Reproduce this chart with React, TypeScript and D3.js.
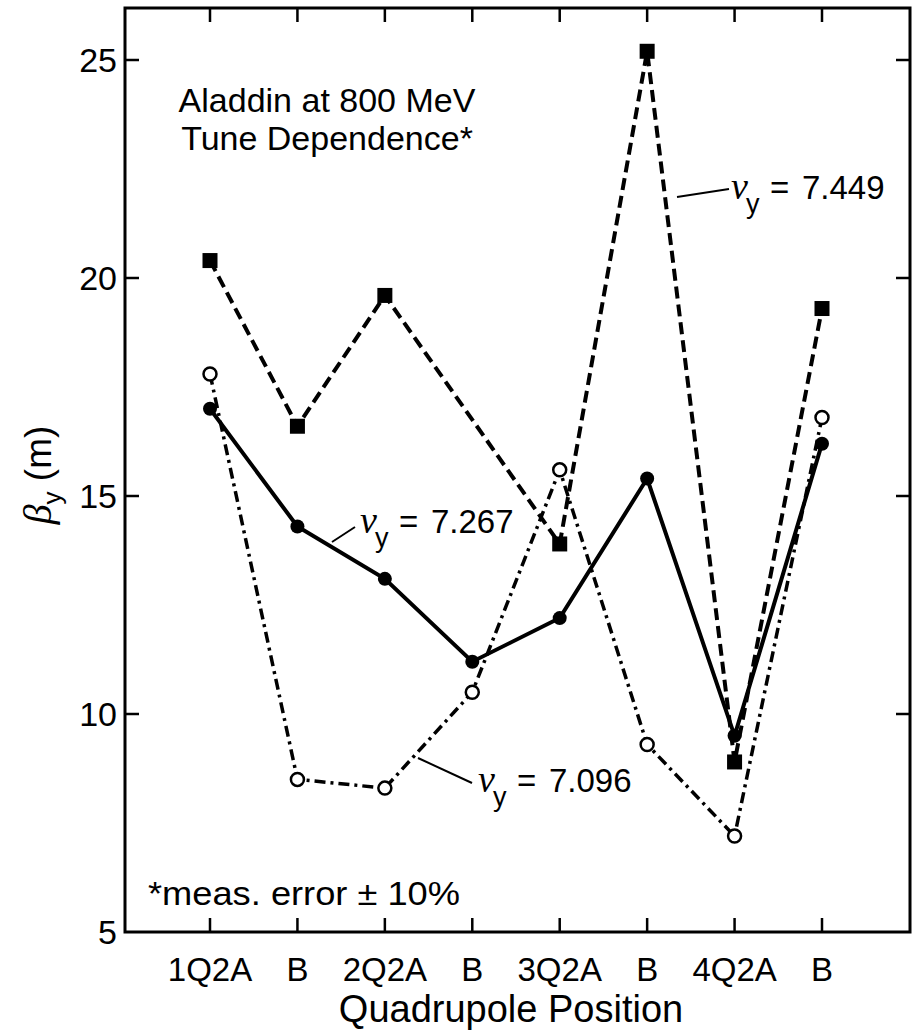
import React from 'react';
import * as d3 from 'd3';

const width = 912;
const height = 1035;

const positions = ['1Q2A', 'B', '2Q2A', 'B', '3Q2A', 'B', '4Q2A', 'B'];
// beta_y (m) at each quadrupole, three tunes
const beta7449 = [20.4, 16.6, 19.6, null, 13.9, 25.2, 8.9, 19.3];
const beta7267 = [17.0, 14.3, 13.1, 11.2, 12.2, 15.4, 9.5, 16.2];
const beta7096 = [17.8, 8.5, 8.3, 10.5, 15.6, 9.3, 7.2, 16.8];
const yTicks = [5, 10, 15, 20, 25];

const frame = { left: 125, right: 910, top: 8, bottom: 932 };
const tickLen = 14;
const sans = 'Liberation Sans, Arial, Helvetica, sans-serif';
const serif = 'Liberation Serif, Times New Roman, serif';

const x = d3.scaleLinear().domain([0, positions.length - 1]).range([210, 822]);
const y = d3.scaleLinear().domain([5, 25]).range([932, 60]);

type Pt = { i: number; v: number };
const toPoints = (vals: (number | null)[]): Pt[] =>
  vals.map((v, i) => ({ i, v: v as number })).filter(d => d.v != null);

const line = d3.line<Pt>().x(d => x(d.i)).y(d => y(d.v));

// nu_y = value, kept as one text so the subscript sits under the nu
const NuLabel = ({ x0, base, value, leader }: { x0: number; base: number; value: string; leader: number[] }) => (
  <g>
    <line x1={leader[0]} y1={leader[1]} x2={leader[2]} y2={leader[3]} stroke="#000" strokeWidth={2} />
    <text x={x0} y={base} fontFamily={sans} fontSize={33}>
      <tspan fontFamily={serif} fontStyle="italic" fontSize={38}>ν</tspan>
      <tspan x={x0 + 15} dy={14} fontSize={27}>y</tspan>
      <tspan x={x0 + 39} dy={-14}>=</tspan>
      <tspan x={x0 + 71}>{value}</tspan>
    </text>
  </g>
);

const App = () => {
  const p7449 = toPoints(beta7449);
  const p7267 = toPoints(beta7267);
  const p7096 = toPoints(beta7096);

  return (
    <div style={{ position: 'absolute', left: 0, top: 0 }}>
      <svg width={width} height={height} style={{ display: 'block', background: '#fff' }}>
        {/* frame */}
        <rect
          x={frame.left}
          y={frame.top}
          width={frame.right - frame.left}
          height={frame.bottom - frame.top}
          fill="none"
          stroke="#000"
          strokeWidth={3}
        />

        {/* x ticks, top and bottom, pointing in */}
        {positions.map((p, i) => (
          <g key={'xt' + i}>
            <line x1={x(i)} x2={x(i)} y1={frame.bottom} y2={frame.bottom - tickLen} stroke="#000" strokeWidth={2.5} />
            <line x1={x(i)} x2={x(i)} y1={frame.top} y2={frame.top + tickLen} stroke="#000" strokeWidth={2.5} />
            <text x={x(i)} y={981} textAnchor="middle" fontFamily={sans} fontSize={33}>{p}</text>
          </g>
        ))}

        {/* y ticks, left and right */}
        {yTicks.map(t => (
          <g key={'yt' + t}>
            {t > 5 && (
              <>
                <line x1={frame.left} x2={frame.left + tickLen} y1={y(t)} y2={y(t)} stroke="#000" strokeWidth={2.5} />
                <line x1={frame.right} x2={frame.right - tickLen} y1={y(t)} y2={y(t)} stroke="#000" strokeWidth={2.5} />
              </>
            )}
            <text x={117} y={y(t) + 12} textAnchor="end" fontFamily={sans} fontSize={34}>{t}</text>
          </g>
        ))}

        {/* axis titles */}
        <text x={511} y={1022} textAnchor="middle" fontFamily={sans} fontSize={38}>
          Quadrupole Position
        </text>
        <text transform="translate(51,475) rotate(-90)" textAnchor="middle" fontFamily={sans} fontSize={37}>
          <tspan fontFamily={serif} fontStyle="italic" fontSize={40}>β</tspan>
          <tspan dy={10} fontSize={26}>y</tspan>
          <tspan dy={-10}> (m)</tspan>
        </text>

        {/* notes */}
        <text x={327} y={112} textAnchor="middle" fontFamily={sans} fontSize={34}>Aladdin  at  800  MeV</text>
        <text x={327} y={150} textAnchor="middle" fontFamily={sans} fontSize={34}>Tune  Dependence*</text>
        <text x={148} y={905} fontFamily={sans} fontSize={33}
          textLength={312} lengthAdjust="spacingAndGlyphs">*meas.  error  ±  10%</text>

        {/* series lines */}
        <path d={line(p7449) || ''} fill="none" stroke="#000" strokeWidth={4} strokeDasharray="12,6" />
        <path d={line(p7096) || ''} fill="none" stroke="#000" strokeWidth={3.5} strokeDasharray="11,5,3,5" />
        <path d={line(p7267) || ''} fill="none" stroke="#000" strokeWidth={4} />

        {/* markers */}
        {p7449.map(d => (
          <rect key={'s' + d.i} x={x(d.i) - 7.5} y={y(d.v) - 7.5} width={15} height={15} fill="#000" />
        ))}
        {p7267.map(d => (
          <circle key={'f' + d.i} cx={x(d.i)} cy={y(d.v)} r={7} fill="#000" />
        ))}
        {p7096.map(d => (
          <circle key={'o' + d.i} cx={x(d.i)} cy={y(d.v)} r={6.5} fill="#fff" stroke="#000" strokeWidth={2.5} />
        ))}

        {/* curve labels */}
        <NuLabel x0={731} base={199} value="7.449" leader={[677, 197, 729, 189]} />
        <NuLabel x0={360} base={533} value="7.267" leader={[332, 542, 355, 527]} />
        <NuLabel x0={478} base={792} value="7.096" leader={[418, 758, 472, 783]} />
      </svg>
    </div>
  );
};

export default App;
